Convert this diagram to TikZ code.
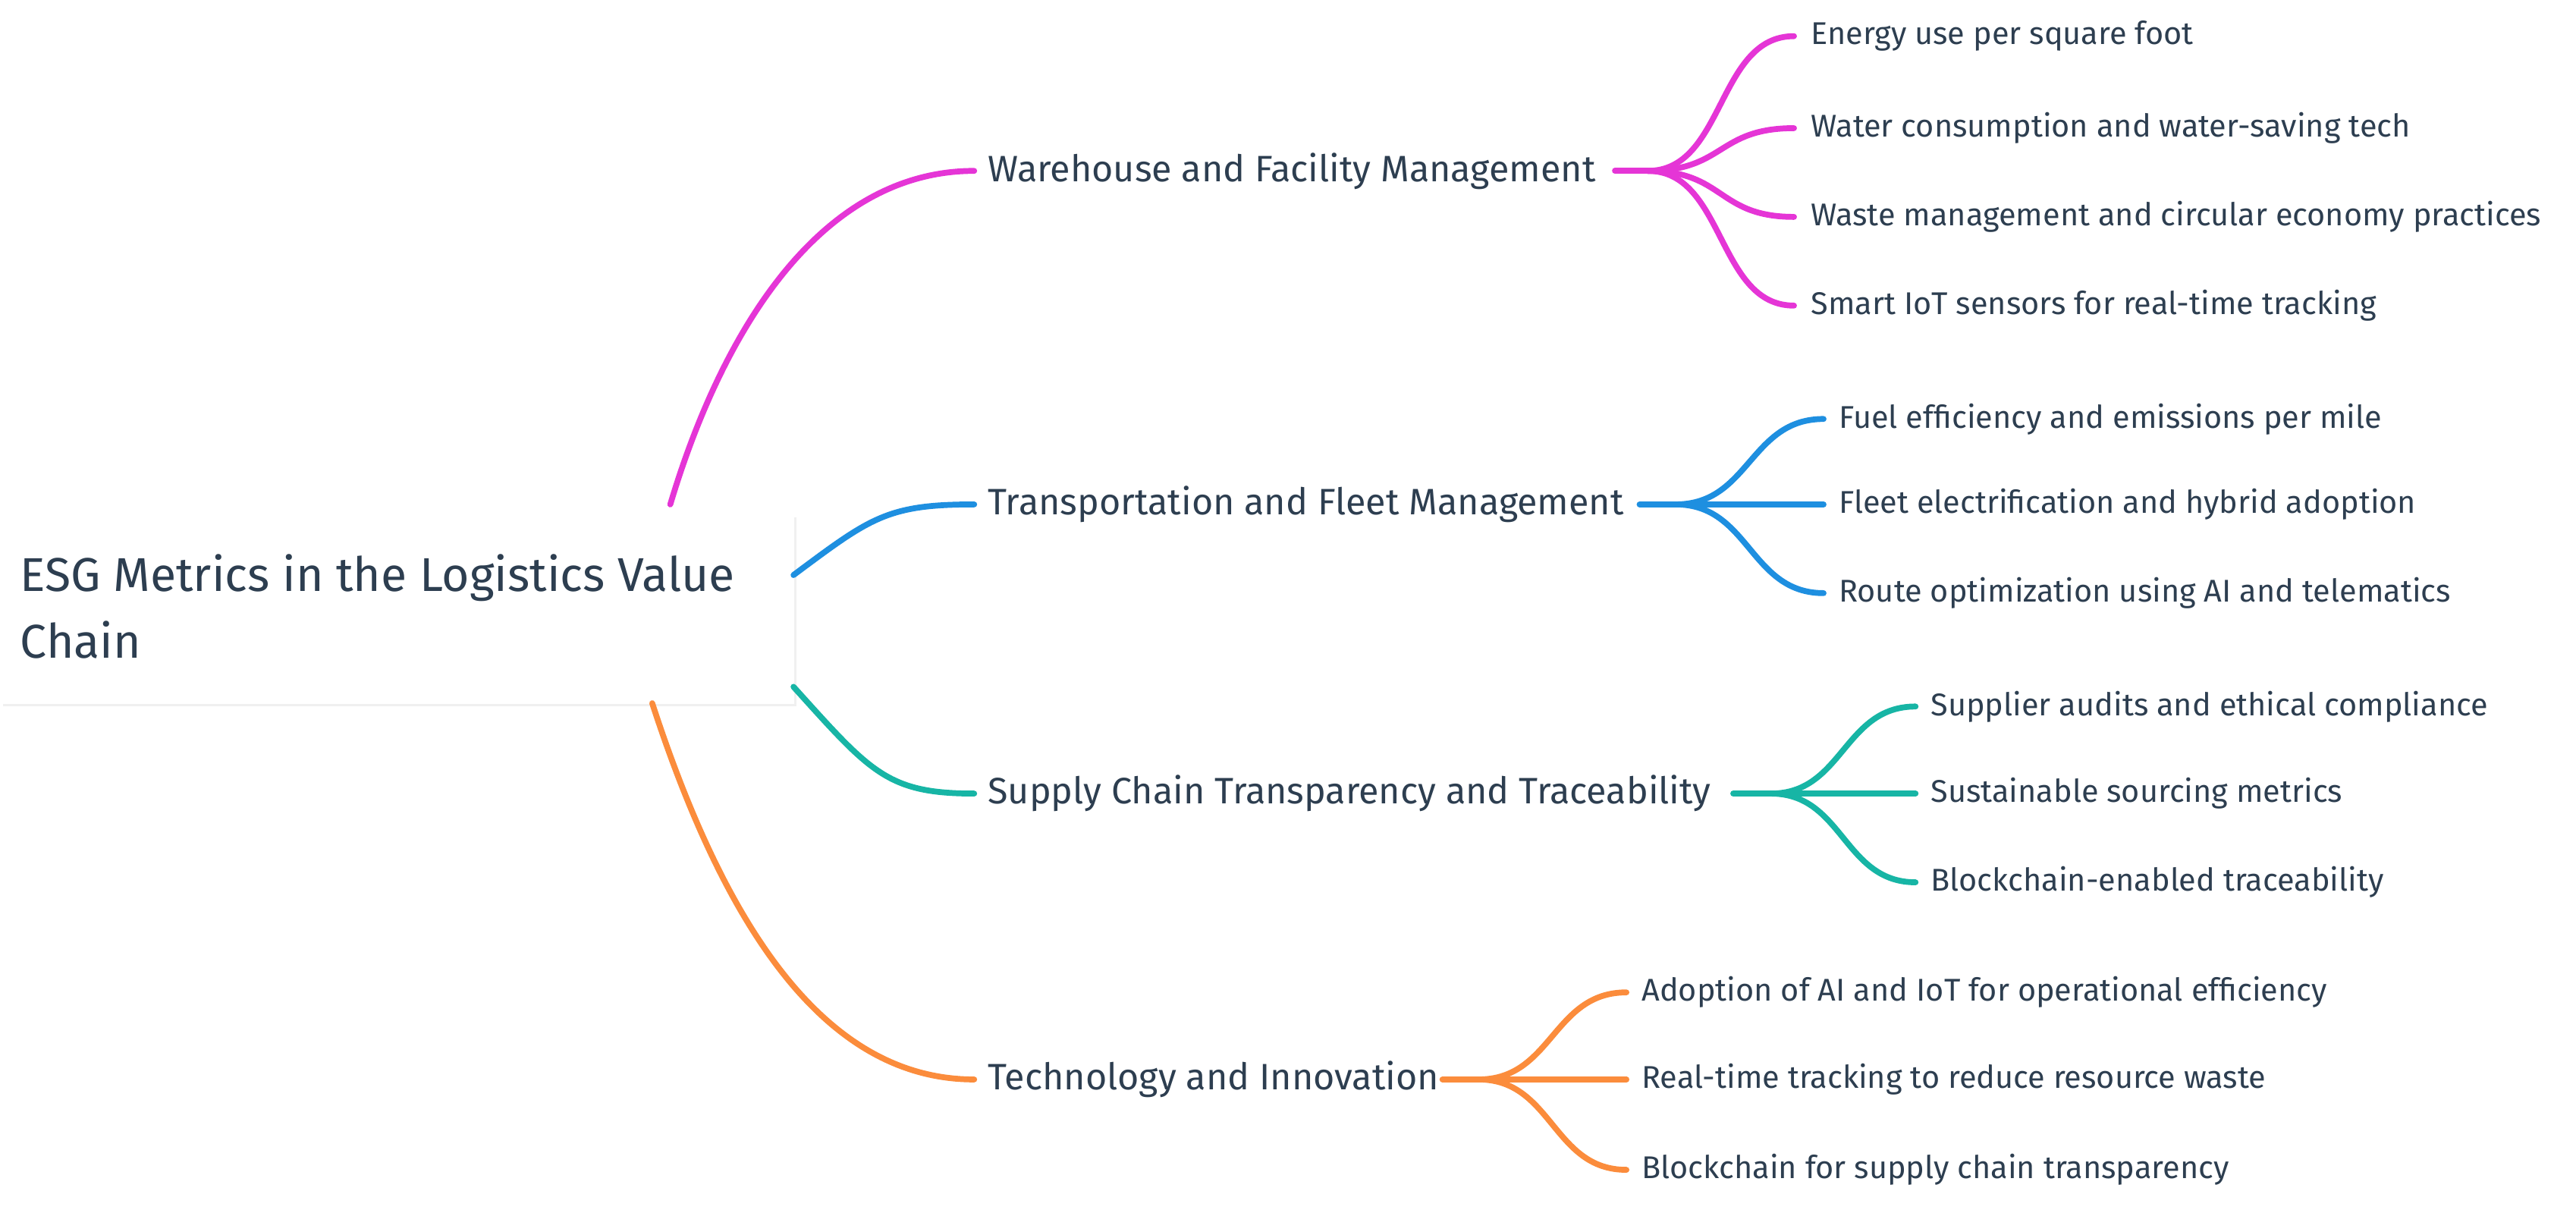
\documentclass[tikz,border=0pt]{standalone}
\usepackage{fontspec}
\setmainfont{Fira Sans}
\usetikzlibrary{shadows}
\definecolor{txt}{HTML}{2D3E50}
\definecolor{colM}{HTML}{E535D6}
\definecolor{colB}{HTML}{1E8FE0}
\definecolor{colT}{HTML}{17B5A5}
\definecolor{colO}{HTML}{FB8C3C}
\begin{document}
\begin{tikzpicture}[x=0.02166cm,y=-0.02166cm,
  br/.style={anchor=west,inner sep=0pt,text=txt,font=\fontsize{13.8}{16}\selectfont},
  lf/.style={anchor=west,inner sep=0pt,text=txt,font=\fontsize{11.8}{14}\selectfont},
  con/.style={line width=2.2pt,line cap=round}]
\useasboundingbox (0,0) rectangle (1568,738);
\node[fill=white,draw=none,drop shadow={opacity=0.12,shadow xshift=1pt,shadow yshift=-1pt},minimum width=483*0.02166cm,minimum height=115*0.02166cm,inner sep=0pt,anchor=north west] (root) at (0,313) {};
\node[anchor=west,text=txt,align=left,inner sep=0pt,font=\fontsize{17.8}{25}\selectfont] (rt) at (12,369) {ESG Metrics in the Logistics Value\\Chain};
\coordinate (rm) at (408,307);
\coordinate (rb) at (483,350);
\coordinate (rtl) at (483,418);
\coordinate (ro) at (397,428);
\node[br] (wm) at (601,104) {Warehouse and Facility Management};
\node[br] (tf) at (601,307) {Transportation and Fleet Management};
\node[br] (sc) at (601,483) {Supply Chain Transparency and Traceability};
\node[br] (ti) at (601,657) {Technology and Innovation};
\draw[con,colM] (rm) .. controls (440,200) and (500,104) .. ([xshift=-8*0.02166cm]wm.west);
\draw[con,colB] (rb) .. controls (530,315) and (540,307) .. ([xshift=-8*0.02166cm]tf.west);
\draw[con,colT] (rtl) .. controls (530,470) and (540,483) .. ([xshift=-8*0.02166cm]sc.west);
\draw[con,colO] (ro) .. controls (440,560) and (500,657) .. ([xshift=-8*0.02166cm]ti.west);
\coordinate (hm0) at (983,104); \coordinate (hm) at (1003,104);
\coordinate (hb0) at (998,307); \coordinate (hb) at (1020,307);
\coordinate (ht0) at (1055,483); \coordinate (ht) at (1078,483);
\coordinate (ho0) at (878,657); \coordinate (ho) at (900,657);
\draw[con,colM] (hm0) -- (hm);
\draw[con,colB] (hb0) -- (hb);
\draw[con,colT] (ht0) -- (ht);
\draw[con,colO] (ho0) -- (ho);
\foreach \n/\y/\t in {m1/22/Energy use per square foot, m2/78/Water consumption and water-saving tech, m3/132/Waste management and circular economy practices, m4/186/Smart IoT sensors for real-time tracking}{
  \node[lf] (\n) at (1102,\y) {\t};
  \draw[con,colM] (hm) .. controls (1050,104) and (1045,\y) .. (1092,\y);}
\foreach \n/\y/\t in {b1/255/Fuel efficiency and emissions per mile, b2/307/Fleet electrification and hybrid adoption, b3/361/Route optimization using AI and telematics}{
  \node[lf] (\n) at (1119,\y) {\t};
  \draw[con,colB] (hb) .. controls (1065,307) and (1065,\y) .. (1110,\y);}
\foreach \n/\y/\t in {t1/430/Supplier audits and ethical compliance, t2/483/Sustainable sourcing metrics, t3/537/Blockchain-enabled traceability}{
  \node[lf] (\n) at (1175,\y) {\t};
  \draw[con,colT] (ht) .. controls (1122,483) and (1122,\y) .. (1166,\y);}
\foreach \n/\y/\t in {o1/604/Adoption of AI and IoT for operational efficiency, o2/657/Real-time tracking to reduce resource waste, o3/712/Blockchain for supply chain transparency}{
  \node[lf] (\n) at (999,\y) {\t};
  \draw[con,colO] (ho) .. controls (945,657) and (945,\y) .. (990,\y);}
\end{tikzpicture}
\end{document}
